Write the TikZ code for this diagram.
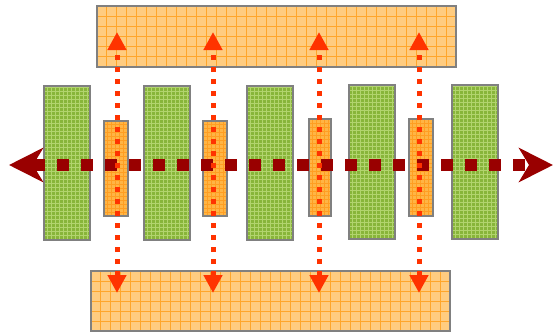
\documentclass[tikz,border=0pt]{standalone}
\usetikzlibrary{arrows.meta}
\definecolor{padorange}{HTML}{FFCC80}
\definecolor{gridorange}{HTML}{FFA62B}
\definecolor{fingerorange}{HTML}{FFB545}
\definecolor{stripgreen}{HTML}{88B53A}
\definecolor{gridgreen}{HTML}{B2D46E}
\definecolor{rimgray}{HTML}{808080}
\definecolor{flowred}{HTML}{FF3300}
\definecolor{busred}{HTML}{990000}
\tikzset{
  pad/.style={draw=rimgray, line width=2pt, fill=padorange, inner sep=0pt,
    path picture={\draw[gridorange, line width=0.8pt]
      (path picture bounding box.south west) grid[step=10pt] (path picture bounding box.north east);}},
  strip/.style={draw=rimgray, line width=2pt, fill=stripgreen, inner sep=0pt,
    minimum width=46pt, minimum height=154pt,
    path picture={\draw[gridgreen, line width=0.8pt]
      (path picture bounding box.south west) grid[step=4pt] (path picture bounding box.north east);}},
  finger/.style={pad, fill=fingerorange, minimum width=24pt,
    path picture={\draw[gridorange!80!orange, line width=0.6pt]
      (path picture bounding box.south west) grid[step=4pt] (path picture bounding box.north east);}},
  bus/.style={busred, line width=12pt, dash pattern=on 12pt off 12pt, dash phase=-2pt,
    {Stealth[length=34pt,width=34pt,inset=10pt]}-{Stealth[length=34pt,width=34pt,inset=10pt]}},
  flow/.style={flowred, line width=5pt, dash pattern=on 5pt off 7pt,
    {Triangle[length=18pt,width=18pt]}-{Triangle[length=18pt,width=18pt]}}
}

\begin{document}
\begin{tikzpicture}[x=1pt,y=-1pt]
  \useasboundingbox (0,0) rectangle (554,333);
  % source and drain pads
  \node[pad, minimum width=359pt, minimum height=61pt] (upper) at (276.5,36.5) {};
  \node[pad, minimum width=359pt, minimum height=60pt] (lower) at (270.5,301) {};
  % channel strips
  \node[strip] (g1) at (67,163) {};
  \node[strip] (g2) at (167,163) {};
  \node[strip] (g3) at (270,163) {};
  \node[strip] (g4) at (372,162) {};
  \node[strip] (g5) at (475,162) {};
  \node[finger, minimum height=95pt] (o1) at (115.5,168.5) {};
  \node[finger, minimum height=95pt] (o2) at (215,168.5) {};
  \node[finger, minimum height=97pt, minimum width=22pt] (o3) at (320,167.5) {};
  \node[finger, minimum height=97pt] (o4) at (420.5,167.5) {};
  % horizontal arrow
  \coordinate (west) at (9,165);
  \coordinate (east) at (553,165);
  \draw[bus] (west) -- (east);
  % vertical arrows
  \coordinate (hi1) at (117,32);  \coordinate (lo1) at (117,293);
  \coordinate (hi2) at (213,32);  \coordinate (lo2) at (213,293);
  \coordinate (hi3) at (319,32);  \coordinate (lo3) at (319,293);
  \coordinate (hi4) at (419,32);  \coordinate (lo4) at (419,293);
  \draw[flow] (lo1) -- (hi1);
  \draw[flow] (lo2) -- (hi2);
  \draw[flow] (lo3) -- (hi3);
  \draw[flow] (lo4) -- (hi4);
\end{tikzpicture}
\end{document}
